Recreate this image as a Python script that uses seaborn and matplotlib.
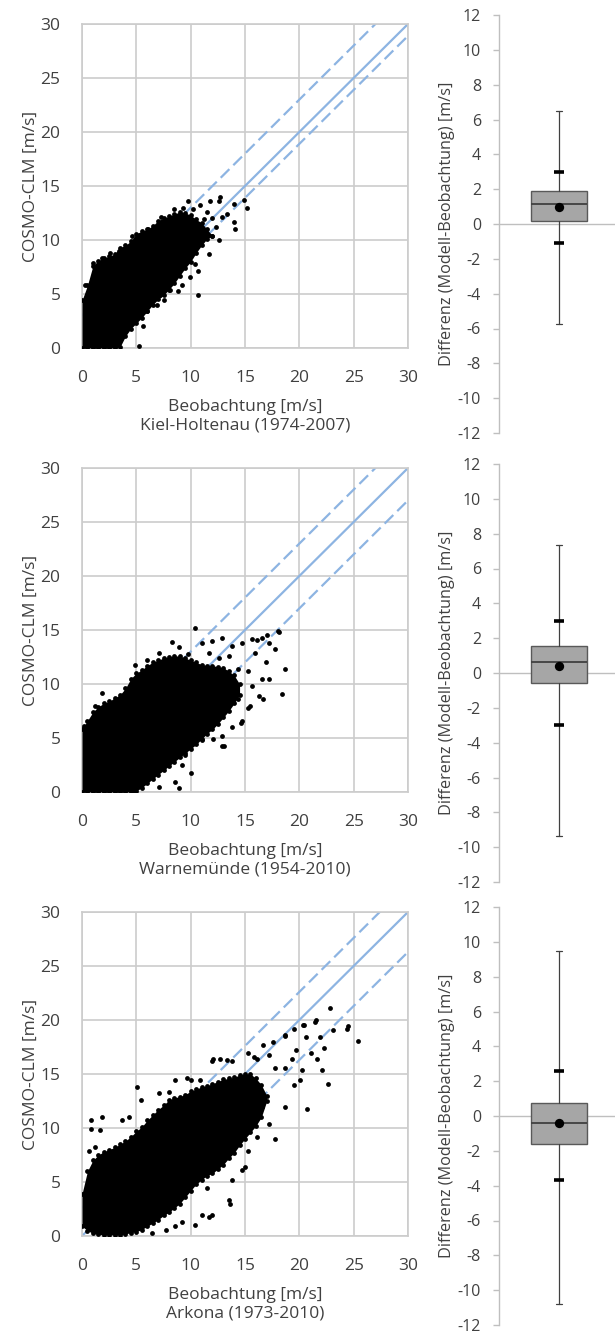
import matplotlib
matplotlib.use('Agg')
import matplotlib.pyplot as plt
import numpy as np
import seaborn as sns

sns.set_theme(style='white')
plt.rcParams['font.family'] = ['Open Sans', 'DejaVu Sans']
plt.rcParams['axes.unicode_minus'] = False

stations = ['Kiel-Holtenau (1974-2007)', 'Warnemünde (1954-2010)', 'Arkona (1973-2010)']

# box plot summary of (model - observation), one value per station
diff_min = [-5.75, -9.35, -10.8]
diff_p5 = [-1.1, -3.0, -3.7]
diff_q1 = [0.15, -0.57, -1.63]
diff_med = [1.15, 0.62, -0.4]
diff_mean = [0.96, 0.4, -0.43]
diff_q3 = [1.88, 1.55, 0.77]
diff_p95 = [3.0, 3.0, 2.6]
diff_max = [6.5, 7.33, 9.47]

# dense part of the point cloud: lower / upper edge
kiel_x = [0, 0.5, 1, 1.5, 2, 2.5, 3, 3.5, 4, 4.5, 5, 5.5, 6, 6.5, 7, 7.5, 8, 8.5, 9, 9.5, 10, 10.5, 11, 11.5, 12]
kiel_lo = [0, 0, 0, 0, 0, 0, 0, 0.1, 1.1, 1.8, 2.3, 2.8, 3.4, 4.0, 4.5, 4.9, 5.4, 6.0, 6.7, 7.4, 8.0, 8.8, 9.5, 10.1, 10.4]
kiel_hi = [4.4, 5.8, 7.6, 8.1, 8.3, 8.5, 8.7, 9.3, 9.5, 9.9, 10.6, 10.8, 11.0, 11.3, 11.8, 12.0, 12.2, 12.4, 12.6, 12.5, 12.3, 11.9, 11.6, 11.0, 10.4]
kiel_out_x = [5.2, 6.0, 6.9, 7.2, 7.5, 8.1, 9.2, 10.7, 10.7, 11.7, 12.6, 12.3, 13.3, 14.0, 14.1, 14.0, 14.9, 15.2,
              12.7, 12.6, 11.8, 10.9, 9.8, 9.3, 8.5, 10.2, 11.5, 12.0, 6.1, 7.3, 4.6, 1.0, 1.8, 0.3, 12.9, 11.2,
              5.6, 8.8, 9.9, 10.4, 2.6, 3.4]
kiel_out_y = [0.15, 3.4, 4.0, 4.9, 4.4, 5.4, 5.8, 4.9, 7.1, 8.7, 10.0, 11.2, 12.4, 11.7, 11.0, 13.3, 13.7, 13.0,
              14.0, 13.6, 13.6, 13.2, 13.6, 13.0, 12.9, 12.9, 12.6, 12.0, 11.0, 12.1, 10.4, 7.9, 8.3, 5.8, 12.1, 11.9,
              2.0, 5.3, 6.6, 7.8, 8.8, 9.0]

warn_x = [0, 0.5, 1, 1.5, 2, 2.5, 3, 3.5, 4, 4.5, 5, 5.5, 6, 6.5, 7, 7.5, 8, 8.5, 9, 9.5, 10, 10.5, 11, 11.5, 12,
          12.5, 13, 13.5, 14, 14.5]
warn_lo = [0, 0, 0, 0, 0, 0, 0, 0, 0, 0, 0.1, 0.4, 0.8, 1.2, 1.6, 2.0, 2.4, 2.8, 3.2, 3.6, 4.0, 4.4, 4.9, 5.4,
           5.8, 6.3, 6.9, 7.5, 8.2, 9.0]
warn_hi = [5.8, 6.6, 7.4, 7.9, 8.2, 8.4, 8.7, 9.0, 9.6, 10.5, 11.0, 11.3, 11.7, 12.0, 12.2, 12.4, 12.5, 12.6, 12.6,
           12.4, 12.2, 12.0, 11.8, 11.7, 11.7, 11.6, 11.5, 11.2, 10.8, 10.0]
warn_out_x = [0.2, 1.8, 1.2, 4.9, 6.0, 7.1, 8.3, 8.9, 10.4, 9.8, 11.0, 12.0, 12.9, 13.8, 14.7, 15.6, 16.6, 17.2,
              17.8, 15.9, 16.9, 17.2, 16.6, 16.3, 16.7, 15.3, 18.4, 18.7, 18.1, 14.7, 13.8, 12.9, 12.9, 11.0,
              9.5, 9.2, 8.6, 7.1, 5.8, 4.8, 11.7, 13.5, 14.4, 15.3, 15.6, 14.4, 16.1, 17.0, 18.0, 12.6, 10.0,
              13.1, 12.1, 15.5, 14.6, 8.9]
warn_out_y = [6.1, 9.2, 8.0, 11.8, 12.2, 12.9, 13.9, 13.4, 15.2, 12.8, 13.8, 14.0, 14.3, 13.5, 13.8, 14.2, 14.3,
              13.8, 13.2, 12.9, 12.0, 10.5, 10.5, 8.9, 8.6, 7.8, 9.1, 11.4, 14.8, 6.6, 6.0, 4.3, 5.2, 4.8,
              3.4, 2.5, 0.9, 0.5, 0.9, 0.06, 12.9, 12.6, 11.4, 11.2, 9.8, 8.6, 14.1, 14.5, 14.9, 12.4, 1.8,
              4.3, 4.9, 8.0, 6.4, 0.4]

ark_x = [0, 0.5, 1, 1.5, 2, 2.5, 3, 3.5, 4, 4.5, 5, 5.5, 6, 6.5, 7, 7.5, 8, 8.5, 9, 9.5, 10, 10.5, 11, 11.5, 12,
         12.5, 13, 13.5, 14, 14.5, 15, 15.5, 16, 16.5, 17]
ark_lo = [0.9, 0.5, 0.25, 0.15, 0.1, 0.1, 0.1, 0.1, 0.2, 0.3, 0.4, 0.6, 0.9, 1.2, 1.5, 1.9, 2.2, 2.6, 3.0, 3.6,
          4.2, 4.8, 5.2, 5.6, 5.8, 6.2, 6.6, 7.2, 7.7, 8.4, 9.0, 9.6, 10.2, 11.0, 12.5]
ark_hi = [3.9, 6.0, 7.0, 7.5, 7.8, 8.0, 8.2, 8.5, 8.8, 9.2, 9.7, 10.1, 10.7, 11.2, 11.7, 12.1, 12.6, 12.8, 12.9,
          13.1, 13.4, 13.6, 13.8, 13.9, 14.1, 14.3, 14.5, 14.6, 14.7, 14.9, 15.0, 15.0, 14.6, 14.0, 13.0]
ark_out_x = [0.8, 1.8, 0.8, 1.7, 3.7, 4.3, 0.6, 1.2, 5.1, 5.4, 7.1, 8.0, 8.6, 10.0, 12.0, 12.7, 13.8, 15.3, 16.1,
             17.8, 17.8, 17.2, 16.6, 14.7, 13.8, 13.5, 13.6, 11.5, 11.7, 12.0, 11.0, 10.4, 9.2, 8.6, 7.7, 6.4,
             14.4, 15.0, 15.3, 16.1, 15.8, 16.7, 17.6, 18.7, 19.5, 20.4, 21.5, 21.4, 20.3, 20.6, 21.6, 20.7,
             19.5, 18.7, 18.7, 19.3, 22.8, 24.5, 24.4, 25.4, 23.1, 21.9, 22.3, 21.1, 22.1, 22.6, 18.7, 20.2,
             20.1, 19.7, 17.2, 6.0, 9.7, 10.9, 12.1, 13.3]
ark_out_y = [10.7, 11.0, 9.9, 9.8, 10.7, 11.0, 7.9, 8.2, 13.8, 12.6, 13.2, 13.3, 14.4, 14.4, 16.2, 16.4, 16.2, 16.9,
             16.4, 15.6, 9.0, 10.4, 11.9, 6.1, 5.2, 3.3, 3.0, 4.4, 1.8, 1.9, 1.9, 1.0, 1.3, 0.9, 0.55, 0.25,
             8.9, 6.4, 7.9, 9.2, 16.6, 17.7, 18.0, 18.6, 19.2, 19.5, 20.0, 19.8, 19.5, 18.4, 16.4, 11.8,
             14.0, 11.9, 15.6, 16.4, 21.1, 19.4, 19.2, 18.1, 19.1, 18.4, 17.4, 16.9, 15.4, 14.1, 18.5, 15.4,
             14.4, 17.2, 16.8, 9.3, 14.6, 14.4, 16.4, 16.3]

clouds = [(kiel_x, kiel_lo, kiel_hi, kiel_out_x, kiel_out_y),
          (warn_x, warn_lo, warn_hi, warn_out_x, warn_out_y),
          (ark_x, ark_lo, ark_hi, ark_out_x, ark_out_y)]

ref = np.array([0, 30])
text_col = '#404040'
grid_col = '#cccccc'
blue = '#8db4e2'
dash = (0, (5.5, 2.5))

W, H = 615, 1334
fig = plt.figure(figsize=(W / 100, H / 100), dpi=100)
sc_tops = [24, 468, 912]
bx_tops = [15, 464, 907]

for i in range(3):
    ax = fig.add_axes([82 / W, 1 - (sc_tops[i] + 324) / H, 326 / W, 324 / H])
    cx, lo, hi, ox, oy = clouds[i]

    # reference lines: 1:1 and shifted by the 5 / 95 percentile of the difference
    ax.plot(ref, ref, color=blue, lw=1.6, zorder=2)
    ax.plot(ref, ref + diff_p95[i], color=blue, lw=1.6, ls=dash, zorder=2)
    ax.plot(ref, ref + diff_p5[i], color=blue, lw=1.6, ls=dash, zorder=2)

    ax.fill_between(cx, lo, hi, color='black', lw=0, zorder=3)
    sns.scatterplot(x=cx + cx, y=lo + hi, ax=ax, color='black', s=12, linewidth=0, zorder=3)
    sns.scatterplot(x=ox, y=oy, ax=ax, color='black', s=12, linewidth=0, zorder=3)

    ax.set_xlim(0, 30)
    ax.set_ylim(0, 30)
    ax.set_xticks(range(0, 31, 5))
    ax.set_yticks(range(0, 31, 5))
    ax.grid(True, color=grid_col, lw=1.2)
    ax.set_axisbelow(True)
    for s in ax.spines.values():
        s.set_color(grid_col)
        s.set_linewidth(1.2)
    ax.tick_params(axis='both', length=6, width=1.2, color=grid_col, labelsize=12.5,
                   labelcolor=text_col)
    ax.tick_params(axis='x', pad=10)
    ax.tick_params(axis='y', pad=9.5)
    ax.set_xlabel('Beobachtung [m/s]\n' + stations[i], fontsize=12.5, color=text_col,
                  linespacing=1.2, labelpad=9)
    ax.set_ylabel('COSMO-CLM [m/s]', fontsize=12.5, color=text_col, labelpad=1.5)

    # box plot of the differences
    bx = fig.add_axes([499 / W, 1 - (bx_tops[i] + 418) / H, 116 / W, 418 / H])
    bx.axhline(0, color='#bfbfbf', lw=1.0, zorder=0.5)
    stats = [dict(whislo=diff_min[i], q1=diff_q1[i], med=diff_med[i], q3=diff_q3[i],
                  whishi=diff_max[i], mean=diff_mean[i], fliers=[])]
    bx.bxp(stats, positions=[1], widths=0.93, patch_artist=True, showfliers=False,
           boxprops=dict(facecolor='#a6a6a6', edgecolor='#595959', lw=1.0),
           medianprops=dict(color='#404040', lw=1.3),
           whiskerprops=dict(color='#404040', lw=0.9),
           capprops=dict(color='#404040', lw=0.9), capwidths=0.09)
    bx.plot([1, 1], [diff_p5[i], diff_p95[i]], ls='none', marker='_', ms=7, mew=2.6,
            color='black', zorder=4)
    sns.scatterplot(x=[1], y=[diff_mean[i]], ax=bx, color='black', s=45, linewidth=0, zorder=5)

    bx.set_xlim(0, 1.93)
    bx.set_ylim(-12, 12)
    bx.set_yticks(range(-12, 13, 2))
    bx.set_xticks([])
    for side in ['top', 'right', 'bottom']:
        bx.spines[side].set_visible(False)
    bx.spines['left'].set_color('#bfbfbf')
    bx.spines['left'].set_linewidth(1.0)
    bx.tick_params(axis='y', left=True, length=4, width=1.0, color='#bfbfbf', labelsize=11.5,
                   labelcolor=text_col, pad=9)
    bx.set_ylabel('Differenz (Modell-Beobachtung) [m/s]', fontsize=11.7, color=text_col,
                  labelpad=2)

fig.savefig('out.png', dpi=100)
